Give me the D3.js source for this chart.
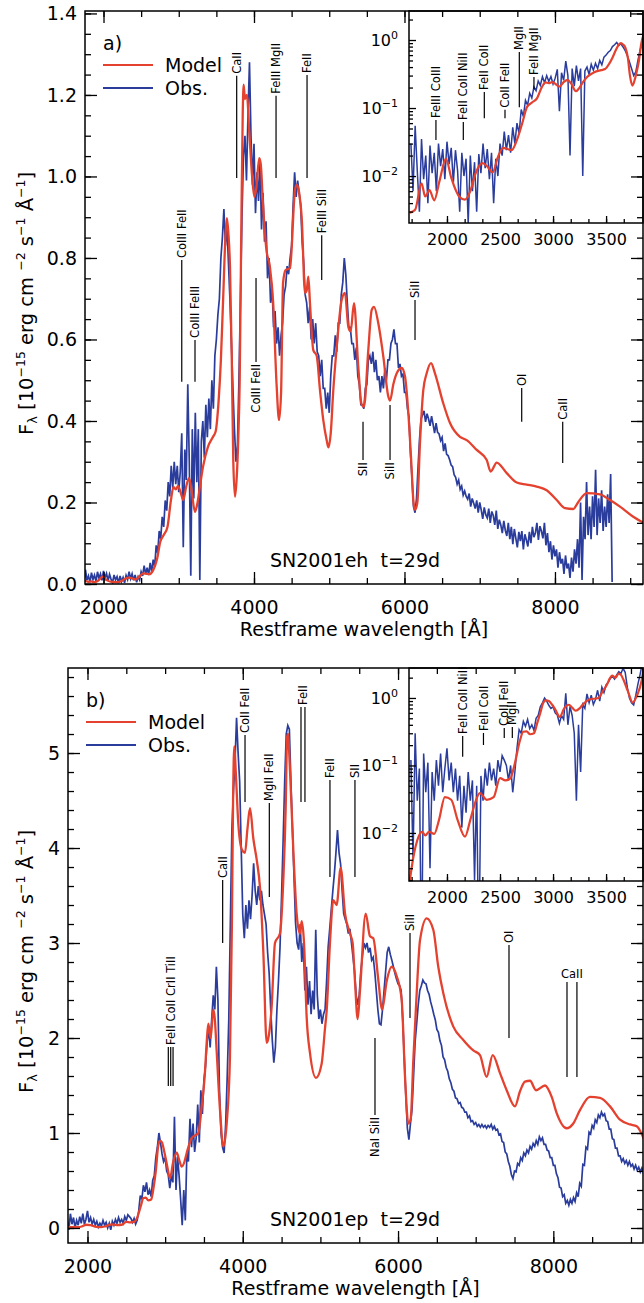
<!DOCTYPE html>
<html lang="en">
<head>
<meta charset="UTF-8">
<title>SN2001eh / SN2001ep spectra</title>
<script src="https://d3js.org/d3.v7.min.js"></script>
<style>
  body { margin: 0; padding: 0; background: #fff; }
  text { font-family: "DejaVu Sans", sans-serif; white-space: pre; }
</style>
</head>
<body>
<script>
  // observed spectra: flux on a regular wavelength grid (Angstrom)
  const obsStart = 1660, obsStep = 20

  const obsA = [
    0.030, 0.006, 0.055, 0.012, 0.003, 0.035, 0.009, 0.020, 0.004, 0.028, // 1660
    0.011, 0.022, 0.006, 0.030, 0.014, 0.025, 0.009, 0.032, 0.015, 0.026, // 1860
    0.008, 0.024, 0.012, 0.003, 0.022, 0.010, 0.018, 0.002, 0.020, 0.006, // 2060
    0.016, 0.003, 0.021, 0.011, 0.030, 0.013, 0.025, 0.009, 0.022, 0.004, // 2260
    0.018, 0.010, 0.030, 0.020, 0.045, 0.024, 0.040, 0.022, 0.052, 0.030, // 2460
    0.060, 0.042, 0.095, 0.075, 0.130, 0.110, 0.165, 0.140, 0.205, 0.180, // 2660
    0.250, 0.215, 0.290, 0.235, 0.300, 0.245, 0.290, 0.225, 0.275, 0.370, // 2860
    0.090, 0.330, 0.255, 0.490, 0.300, 0.020, 0.380, 0.210, 0.420, 0.250, // 3060
    0.380, 0.010, 0.350, 0.400, 0.310, 0.440, 0.360, 0.455, 0.380, 0.500, // 3260
    0.430, 0.560, 0.600, 0.660, 0.700, 0.800, 0.850, 0.920, 0.830, 0.880, // 3460
    0.790, 0.700, 0.590, 0.480, 0.380, 0.300, 0.340, 0.500, 0.700, 0.900, // 3660
    1.050, 1.100, 0.990, 1.150, 1.280, 1.100, 0.980, 1.080, 0.910, 1.010, // 3860
    0.940, 1.040, 0.870, 0.960, 0.840, 0.890, 0.750, 0.800, 0.690, 0.730, // 4060
    0.630, 0.670, 0.590, 0.630, 0.560, 0.610, 0.640, 0.710, 0.730, 0.780, // 4260
    0.760, 0.800, 0.830, 0.930, 1.010, 0.950, 0.990, 0.960, 0.930, 0.840, // 4460
    0.790, 0.710, 0.690, 0.640, 0.680, 0.600, 0.650, 0.590, 0.640, 0.570, // 4660
    0.560, 0.510, 0.550, 0.480, 0.480, 0.430, 0.470, 0.420, 0.510, 0.560, // 4860
    0.560, 0.610, 0.570, 0.640, 0.640, 0.710, 0.740, 0.800, 0.760, 0.690, // 5060
    0.630, 0.630, 0.590, 0.590, 0.550, 0.580, 0.510, 0.490, 0.440, 0.440, // 5260
    0.430, 0.480, 0.490, 0.550, 0.560, 0.540, 0.570, 0.520, 0.550, 0.500, // 5460
    0.510, 0.470, 0.510, 0.480, 0.530, 0.500, 0.550, 0.550, 0.590, 0.600, // 5660
    0.625, 0.590, 0.590, 0.530, 0.540, 0.510, 0.515, 0.470, 0.470, 0.430, // 5860
    0.410, 0.320, 0.260, 0.190, 0.175, 0.210, 0.285, 0.355, 0.405, 0.415, // 6060
    0.425, 0.398, 0.418, 0.405, 0.388, 0.412, 0.392, 0.370, 0.395, 0.372, // 6260
    0.368, 0.352, 0.360, 0.326, 0.345, 0.318, 0.315, 0.305, 0.292, 0.288, // 6460
    0.268, 0.262, 0.245, 0.255, 0.232, 0.240, 0.218, 0.228, 0.215, 0.208, // 6660
    0.222, 0.190, 0.210, 0.198, 0.185, 0.205, 0.175, 0.200, 0.182, 0.160, // 6860
    0.188, 0.170, 0.162, 0.185, 0.150, 0.178, 0.168, 0.145, 0.180, 0.135, // 7060
    0.158, 0.145, 0.125, 0.155, 0.132, 0.118, 0.150, 0.110, 0.140, 0.098, // 7260
    0.135, 0.112, 0.090, 0.128, 0.105, 0.130, 0.085, 0.122, 0.108, 0.092, // 7460
    0.128, 0.100, 0.140, 0.115, 0.125, 0.150, 0.108, 0.142, 0.130, 0.112, // 7660
    0.150, 0.095, 0.125, 0.078, 0.105, 0.060, 0.095, 0.068, 0.085, 0.040, // 7860
    0.078, 0.050, 0.062, 0.025, 0.070, 0.038, 0.050, 0.015, 0.065, 0.030, // 8060
    0.085, 0.050, 0.110, 0.040, 0.200, 0.010, 0.165, 0.110, 0.250, 0.120, // 8260
    0.190, 0.110, 0.215, 0.140, 0.280, 0.120, 0.210, 0.150, 0.230, 0.130, // 8460
    0.190, 0.140, 0.220, 0.150, 0.270, 0.005                              // 8660
  ]

  const obsB = [
    0.120, 0.004, 0.300, 0.030, 0.090, -0.020, 0.150, 0.040, 0.110, 0.003, // 1660
    0.080, 0.030, 0.120, 0.050, 0.150, 0.040, 0.090, 0.180, 0.060, 0.110,  // 1860
    0.040, 0.090, 0.030, 0.070, 0.012, 0.050, 0.020, 0.080, 0.030, 0.060,  // 2060
    0.002, 0.050, -0.020, 0.070, 0.030, 0.090, 0.050, 0.110, 0.060, 0.090, // 2260
    0.050, 0.120, 0.080, 0.140, 0.120, 0.100, 0.060, 0.100, 0.040, 0.080,  // 2460
    0.180, 0.340, 0.300, 0.450, 0.380, 0.480, 0.350, 0.400, 0.330, 0.500,  // 2660
    0.550, 0.740, 0.850, 1.000, 0.900, 0.780, 0.700, 0.740, 0.600, 0.560,  // 2860
    0.420, 0.550, 0.480, 1.170, 0.400, 0.750, 0.550, 0.300, 0.030, 0.400,  // 3060
    0.080, 0.800, 0.700, 1.150, 0.850, 1.100, 0.800, 0.950, 1.300, 0.900,  // 3260
    1.450, 1.200, 1.560, 1.700, 1.950, 2.100, 1.900, 2.200, 2.450, 2.300,  // 3460
    2.750, 2.400, 1.450, 1.000, 0.850, 0.790, 1.100, 1.600, 2.200, 3.200,  // 3660
    4.200, 4.600, 4.900, 5.370, 5.000, 4.700, 4.000, 3.300, 3.050, 3.400,  // 3860
    3.150, 3.450, 3.250, 3.500, 3.840, 3.550, 3.400, 3.600, 3.450, 3.550,  // 4060
    3.400, 3.300, 3.200, 2.900, 2.680, 2.300, 1.980, 1.740, 1.900, 2.300,  // 4260
    2.600, 2.960, 3.500, 4.080, 4.700, 5.200, 5.290, 5.250, 4.700, 4.200,  // 4460
    3.700, 3.210, 3.000, 2.930, 3.200, 2.800, 3.000, 2.500, 2.750, 2.350,  // 4660
    2.600, 2.250, 2.500, 2.300, 3.140, 2.450, 2.200, 2.300, 2.150, 2.250,  // 4860
    2.300, 2.600, 2.960, 3.150, 3.350, 3.550, 3.730, 3.950, 4.190, 3.950,  // 5060
    3.830, 3.550, 3.310, 3.250, 3.200, 3.100, 3.150, 3.000, 2.850, 2.700,  // 5260
    2.450, 2.350, 2.450, 2.700, 2.850, 3.000, 2.950, 3.000, 2.900, 2.950,  // 5460
    2.820, 2.850, 2.700, 2.500, 2.300, 2.150, 2.140, 2.300, 2.500, 2.700,  // 5660
    2.900, 2.960, 2.880, 2.820, 2.750, 2.680, 2.620, 2.570, 2.550, 2.500,  // 5860
    2.200, 1.800, 1.400, 1.050, 0.930, 1.100, 1.250, 1.600, 1.960, 2.150,  // 6060
    2.350, 2.500, 2.550, 2.610, 2.580, 2.570, 2.500, 2.460, 2.380, 2.320,  // 6260
    2.250, 2.190, 2.090, 2.060, 1.970, 1.920, 1.800, 1.770, 1.690, 1.650,  // 6460
    1.570, 1.530, 1.460, 1.440, 1.370, 1.360, 1.310, 1.320, 1.270, 1.260,  // 6660
    1.220, 1.220, 1.160, 1.180, 1.120, 1.130, 1.090, 1.110, 1.070, 1.090,  // 6860
    1.060, 1.090, 1.060, 1.080, 1.050, 1.080, 1.060, 1.090, 1.040, 1.070,  // 7060
    1.030, 1.040, 0.980, 0.990, 0.910, 0.900, 0.800, 0.780, 0.700, 0.650,  // 7260
    0.560, 0.520, 0.600, 0.590, 0.680, 0.660, 0.740, 0.710, 0.790, 0.760,  // 7460
    0.820, 0.790, 0.860, 0.830, 0.890, 0.860, 0.920, 0.880, 0.960, 0.920,  // 7660
    0.950, 0.880, 0.880, 0.820, 0.810, 0.740, 0.740, 0.660, 0.660, 0.570,  // 7860
    0.530, 0.430, 0.420, 0.330, 0.350, 0.260, 0.290, 0.240, 0.300, 0.260,  // 8060
    0.320, 0.280, 0.370, 0.330, 0.470, 0.440, 0.670, 0.660, 0.850, 0.830,  // 8260
    1.010, 0.990, 1.080, 1.050, 1.140, 1.110, 1.190, 1.160, 1.220, 1.180,  // 8460
    1.200, 1.130, 1.120, 1.040, 1.040, 0.940, 0.930, 0.840, 0.840, 0.760,  // 8660
    0.760, 0.700, 0.730, 0.680, 0.710, 0.660, 0.700, 0.650, 0.670, 0.620,  // 8860
    0.660, 0.610, 0.640, 0.590, 0.630, 0.580, 0.620, 0.580                 // 9060
  ]

  // model spectra: [wavelength, flux] knots
  const modelA = [
    [1650, 0.0029], [1700, 0.0032], [1760, 0.0078], [1795, 0.005], [1835, 0.0062], [1880, 0.0044],
    [1930, 0.0085], [1990, 0.018], [2040, 0.0095], [2120, 0.0049], [2170, 0.0045], [2220, 0.006],
    [2270, 0.011], [2335, 0.0155], [2380, 0.0138], [2430, 0.0113], [2480, 0.019], [2530, 0.026],
    [2570, 0.025], [2610, 0.024], [2660, 0.034], [2710, 0.06], [2755, 0.104], [2800, 0.12],
    [2850, 0.14], [2895, 0.204], [2930, 0.238], [2960, 0.232], [2990, 0.24], [3020, 0.228],
    [3060, 0.206], [3100, 0.24], [3136, 0.26], [3170, 0.23], [3216, 0.177], [3250, 0.2],
    [3282, 0.24], [3323, 0.288], [3389, 0.337], [3455, 0.361], [3490, 0.374], [3530, 0.45],
    [3560, 0.55], [3590, 0.7], [3620, 0.85], [3640, 0.898], [3660, 0.86], [3681, 0.778],
    [3705, 0.55], [3725, 0.3], [3748, 0.214], [3770, 0.26], [3790, 0.35], [3810, 0.5],
    [3830, 0.85], [3850, 1.15], [3862, 1.225], [3880, 1.19], [3905, 1.2], [3940, 1.1],
    [3975, 1.0], [4005, 0.95], [4030, 0.97], [4070, 1.045], [4090, 1.03], [4120, 0.93],
    [4165, 0.82], [4210, 0.78], [4255, 0.69], [4300, 0.49], [4333, 0.402], [4360, 0.47],
    [4386, 0.738], [4420, 0.77], [4479, 0.775], [4545, 0.967], [4570, 0.98], [4600, 0.96],
    [4634, 0.9], [4678, 0.714], [4700, 0.72], [4722, 0.754], [4744, 0.689], [4788, 0.574],
    [4833, 0.56], [4877, 0.476], [4921, 0.402], [4966, 0.353], [4990, 0.335], [5020, 0.37],
    [5054, 0.476], [5099, 0.58], [5165, 0.697], [5209, 0.714], [5254, 0.631], [5285, 0.62],
    [5329, 0.689], [5386, 0.533], [5431, 0.44], [5462, 0.435], [5519, 0.574], [5564, 0.672],
    [5595, 0.68], [5652, 0.64], [5719, 0.558], [5785, 0.46], [5808, 0.45], [5852, 0.49],
    [5897, 0.517], [5963, 0.53], [6007, 0.509], [6051, 0.42], [6090, 0.3], [6120, 0.2],
    [6140, 0.182], [6171, 0.2], [6206, 0.346], [6250, 0.476], [6295, 0.517], [6353, 0.542],
    [6405, 0.517], [6516, 0.443], [6605, 0.395], [6738, 0.361], [6827, 0.353], [6960, 0.329],
    [7093, 0.304], [7146, 0.276], [7226, 0.298], [7359, 0.272], [7492, 0.249], [7624, 0.244],
    [7757, 0.239], [7890, 0.23], [8023, 0.206], [8134, 0.186], [8244, 0.184], [8306, 0.2],
    [8422, 0.223], [8598, 0.22], [8731, 0.206], [8864, 0.19], [9041, 0.165], [9180, 0.15]
  ]

  const modelB = [
    [1650, 0.002], [1690, 0.005], [1720, 0.0078], [1765, 0.0104], [1796, 0.0092], [1830, 0.0104],
    [1880, 0.0097], [1925, 0.0156], [1980, 0.034], [2040, 0.031], [2100, 0.0156], [2170, 0.0088],
    [2220, 0.0156], [2265, 0.028], [2310, 0.039], [2375, 0.031], [2440, 0.034], [2500, 0.065],
    [2550, 0.06], [2600, 0.065], [2635, 0.1], [2690, 0.24], [2719, 0.316], [2750, 0.32],
    [2783, 0.29], [2820, 0.3], [2850, 0.42], [2880, 0.6], [2910, 0.86], [2935, 0.92],
    [2960, 0.9], [2990, 0.8], [3020, 0.68], [3063, 0.526], [3105, 0.7], [3149, 0.793],
    [3180, 0.72], [3213, 0.646], [3250, 0.7], [3278, 0.79], [3342, 0.947], [3427, 1.0],
    [3471, 1.28], [3510, 1.6], [3535, 1.95], [3556, 2.15], [3587, 2.0], [3620, 2.3],
    [3640, 2.2], [3664, 1.86], [3707, 1.24], [3750, 0.856], [3793, 1.1], [3835, 1.8],
    [3860, 3.2], [3875, 4.5], [3891, 5.07], [3910, 4.8], [3943, 4.25], [3990, 3.98],
    [4029, 3.95], [4060, 4.2], [4093, 4.42], [4136, 4.1], [4179, 3.88], [4222, 3.58],
    [4265, 2.9], [4308, 1.95], [4330, 2.0], [4372, 2.33], [4415, 3.0], [4479, 3.1],
    [4522, 3.66], [4553, 4.43], [4570, 5.15], [4582, 5.2], [4608, 4.82], [4651, 3.98],
    [4694, 3.31], [4737, 3.1], [4759, 3.23], [4789, 3.0], [4823, 2.22], [4866, 1.84],
    [4943, 1.58], [5016, 1.73], [5059, 2.1], [5081, 2.29], [5123, 3.0], [5166, 3.45],
    [5209, 3.4], [5261, 3.79], [5317, 3.31], [5381, 3.1], [5415, 3.0], [5445, 2.6],
    [5480, 2.2], [5510, 2.5], [5583, 3.31], [5639, 3.07], [5681, 3.05], [5746, 2.61],
    [5795, 2.3], [5854, 2.6], [5918, 2.75], [5983, 2.65], [6047, 2.4], [6090, 1.59],
    [6132, 1.1], [6163, 1.15], [6197, 1.77], [6240, 2.47], [6283, 3.03], [6369, 3.26],
    [6454, 3.14], [6518, 2.75], [6583, 2.47], [6712, 2.12], [6840, 1.98], [6969, 1.87],
    [7055, 1.82], [7141, 1.59], [7219, 1.82], [7313, 1.63], [7399, 1.45], [7506, 1.28],
    [7571, 1.44], [7635, 1.54], [7700, 1.55], [7777, 1.45], [7893, 1.5], [7979, 1.38],
    [8043, 1.21], [8172, 1.05], [8257, 1.1], [8343, 1.24], [8472, 1.38], [8601, 1.37],
    [8730, 1.28], [8859, 1.14], [8988, 1.09], [9074, 1.07], [9170, 0.93]
  ]

  // line identifications: name, wavelengths, flux range of the marker
  const idsA = [
    { t: 'CoIII FeII', w: [3040], f: [0.795, 0.496] },
    { t: 'CoIII FeIII', w: [3216], f: [0.599, 0.496] },
    { t: 'CaII', w: [3770], f: [1.247, 0.996] },
    { t: 'FeIII MgII', w: [4293], f: [1.198, 0.996] },
    { t: 'FeII', w: [4705], f: [1.249, 0.996] },
    { t: 'FeIII SiII', w: [4900], f: [0.856, 0.746] },
    { t: 'CoIII FeII', w: [4027], f: [0.751, 0.545], side: 'down' },
    { t: 'SII', w: [5449], f: [0.398, 0.304], side: 'down' },
    { t: 'SiII', w: [5808], f: [0.439, 0.304], side: 'down' },
    { t: 'SiII', w: [6140], f: [0.697, 0.599] },
    { t: 'OI', w: [7558], f: [0.481, 0.398] },
    { t: 'CaII', w: [8103], f: [0.398, 0.297] }
  ]
  const idsInsetA = [
    { t: 'FeIII CoIII', w: [1896], f: [0.0665, 0.0338] },
    { t: 'FeII CoII NiII', w: [2154], f: [0.0623, 0.0338] },
    { t: 'FeII CoII', w: [2352], f: [0.172, 0.071] },
    { t: 'CoII FeII', w: [2547], f: [0.094, 0.071] },
    { t: 'MgII', w: [2682], f: [0.666, 0.103] },
    { t: 'FeII MgII', w: [2820], f: [0.286, 0.19] }
  ]
  const idsB = [
    { t: 'FeII CoII CrII TiII', w: [3041, 3072, 3102], f: [1.905, 1.495] },
    { t: 'CaII', w: [3741], f: [3.663, 3.0] },
    { t: 'CoII FeII', w: [4029], f: [5.19, 4.484] },
    { t: 'MgII FeII', w: [4342], f: [4.474, 3.484] },
    { t: 'FeII', w: [4750, 4801], f: [5.484, 4.484] },
    { t: 'FeII', w: [5123], f: [4.716, 3.695] },
    { t: 'SII', w: [5445], f: [4.716, 3.695] },
    { t: 'SiII', w: [6154], f: [3.105, 2.21] },
    { t: 'NaI SiII', w: [5703], f: [2.0, 1.19], side: 'down' },
    { t: 'OI', w: [7429], f: [2.979, 2.0] },
    { t: 'CaII', w: [8176, 8304], f: [2.589, 1.589], side: 'flat' }
  ]
  const idsInsetB = [
    { t: 'FeII CoII NiII', w: [2148], f: [0.273, 0.134] },
    { t: 'FeII CoII', w: [2344], f: [0.303, 0.201] },
    { t: 'CoII FeII', w: [2540], f: [0.359, 0.255] },
    { t: 'MgII', w: [2616], f: [0.372, 0.255] }
  ]

  const xMajor = [2000, 4000, 6000, 8000]
  const insetXMajor = [2000, 2500, 3000, 3500]
  const insetYMajor = [0.01, 0.1, 1]

  const red = '#e4412f'
  const blue = '#2a3c9c'
  const idFont = '"Liberation Sans", Arial, sans-serif'

  const svg = d3.select('body').append('svg')
    .attr('width', 644)
    .attr('height', 1303)

  const obsPoints = vals => vals.map((v, i) => [obsStart + i * obsStep, v])

  function styleAxis(g, size) {
    g.selectAll('.domain').remove()
    g.selectAll('.tick line').attr('stroke', '#000').attr('stroke-width', 1.3)
    g.attr('font-family', '"DejaVu Sans", sans-serif').attr('font-size', size)
    g.selectAll('.tick text').attr('fill', '#000')
  }

  function addAxis(gen, tx, ty, size) {
    const g = svg.append('g').attr('transform', `translate(${tx},${ty})`).call(gen)
    styleAxis(g, size)
    return g
  }

  function drawIds(g, list, x, y) {
    list.forEach(l => {
      const xs = l.w.map(x)
      const y1 = y(l.f[0]), y2 = y(l.f[1])
      xs.forEach(xx => g.append('line')
        .attr('x1', xx).attr('x2', xx).attr('y1', y1).attr('y2', y2)
        .attr('stroke', '#000').attr('stroke-width', 1.2))
      const xc = d3.mean(xs)
      const t = g.append('text')
        .attr('font-family', idFont)
        .attr('font-size', 11.5)
        .attr('fill', '#000')
        .text(l.t)
      if (l.side === 'flat') {
        t.attr('x', xc).attr('y', y1 - 4).attr('text-anchor', 'middle')
      } else if (l.side === 'down') {
        t.attr('transform', `translate(${xc},${y2 + 2}) rotate(-90)`)
          .attr('text-anchor', 'end').attr('dy', '0.36em')
      } else {
        t.attr('transform', `translate(${xc},${y1 - 2}) rotate(-90)`)
          .attr('dy', '0.36em')
      }
    })
  }

  function yTitle(cx, cy) {
    const t = svg.append('text')
      .attr('transform', `translate(${cx},${cy}) rotate(-90)`)
      .attr('text-anchor', 'middle')
      .attr('font-size', 19.5)
    t.append('tspan').text('F')
    t.append('tspan').attr('font-size', 13).attr('dy', 4).text('λ')
    t.append('tspan').attr('dy', -4).text(' [10')
    t.append('tspan').attr('font-size', 12.5).attr('dy', -8).text('−15')
    t.append('tspan').attr('dy', 8).text(' erg cm ')
    t.append('tspan').attr('font-size', 12.5).attr('dy', -8).text('−2')
    t.append('tspan').attr('dy', 8).text(' s')
    t.append('tspan').attr('font-size', 12.5).attr('dy', -8).text('−1')
    t.append('tspan').attr('dy', 8).text(' Å')
    t.append('tspan').attr('font-size', 12.5).attr('dy', -8).text('−1')
    t.append('tspan').attr('dy', 8).text(']')
  }

  function inset(p, ins, obs, model, ids) {
    const x = d3.scaleLinear().domain(ins.xDomain).range([ins.left, ins.right])
    const y = d3.scaleLog().domain(ins.yDomain).range([ins.bottom, ins.top])
    const clipId = 'clip-inset-' + p.id
    svg.append('clipPath').attr('id', clipId).append('rect')
      .attr('x', ins.left).attr('y', ins.top)
      .attr('width', ins.right - ins.left).attr('height', ins.bottom - ins.top)

    svg.append('rect')
      .attr('x', ins.left).attr('y', ins.top)
      .attr('width', ins.right - ins.left).attr('height', ins.bottom - ins.top)
      .attr('fill', '#fff')

    const g = svg.append('g')
    const lineObs = d3.line().x(d => x(d[0])).y(d => y(Math.max(d[1], 1e-4)))
    const lineMod = d3.line().x(d => x(d[0])).y(d => y(d[1])).curve(d3.curveMonotoneX)
    g.append('path').datum(obsPoints(obs).filter(d => d[0] < 3950))
      .attr('d', lineObs).attr('fill', 'none')
      .attr('stroke', blue).attr('stroke-width', 1.5)
      .attr('clip-path', `url(#${clipId})`)
    g.append('path').datum(model.filter(d => d[0] < 4000))
      .attr('d', lineMod).attr('fill', 'none')
      .attr('stroke', red).attr('stroke-width', 2.2)
      .attr('clip-path', `url(#${clipId})`)

    drawIds(g, ids, x, y)

    // log minor ticks
    const yMinor = []
    ;[0.001, 0.01, 0.1, 1].forEach(dec => {
      for (let k = 2; k < 10; k++) {
        const v = k * dec
        if (v > ins.yDomain[0] && v < ins.yDomain[1]) yMinor.push(v)
      }
    })
    const xMinor = d3.range(0, 14).map(i => 1500 + i * 500 / 3)
      .filter(v => v > ins.xDomain[0] && v < ins.xDomain[1])

    addAxis(d3.axisBottom(x).tickValues(insetXMajor).tickSize(-7).tickPadding(10.5)
      .tickFormat(d3.format('d')), 0, ins.bottom, 16)
    addAxis(d3.axisBottom(x).tickValues(xMinor).tickSize(-4).tickFormat(''), 0, ins.bottom, 16)
    const ly = addAxis(d3.axisLeft(y).tickValues(insetYMajor).tickSize(-7).tickPadding(11),
      ins.left, 0, 16)
    ly.selectAll('.tick text').each(function (d) {
      const e = Math.round(Math.log10(d))
      const t = d3.select(this).text('10')
      t.append('tspan').attr('dy', -7).attr('font-size', 11)
        .text(e === 0 ? '0' : '−' + Math.abs(e))
    })
    addAxis(d3.axisLeft(y).tickValues(yMinor).tickSize(-4).tickFormat(''), ins.left, 0, 16)

    svg.append('rect')
      .attr('x', ins.left).attr('y', ins.top)
      .attr('width', ins.right - ins.left).attr('height', ins.bottom - ins.top)
      .attr('fill', 'none').attr('stroke', '#000').attr('stroke-width', 1.5)
  }

  function panel(p) {
    const x = d3.scaleLinear().domain(p.xDomain).range([p.left, p.right])
    const y = d3.scaleLinear().domain(p.yDomain).range([p.bottom, p.top])
    const clipId = 'clip-' + p.id
    svg.append('clipPath').attr('id', clipId).append('rect')
      .attr('x', p.left).attr('y', p.top)
      .attr('width', p.right - p.left).attr('height', p.bottom - p.top)

    const g = svg.append('g')
    const lineObs = d3.line().x(d => x(d[0])).y(d => y(d[1]))
    const lineMod = d3.line().x(d => x(d[0])).y(d => y(d[1])).curve(d3.curveMonotoneX)

    g.append('path').datum(obsPoints(p.obs))
      .attr('d', lineObs).attr('fill', 'none')
      .attr('stroke', blue).attr('stroke-width', 1.7)
      .attr('clip-path', `url(#${clipId})`)
    g.append('path').datum(p.model)
      .attr('d', lineMod).attr('fill', 'none')
      .attr('stroke', red).attr('stroke-width', 2.3)
      .attr('clip-path', `url(#${clipId})`)

    drawIds(g, p.ids, x, y)

    // legend
    const lx = p.left + 18
    g.append('text').attr('x', lx).attr('y', p.top + 39).attr('font-size', 19).text(p.letter)
    g.append('line').attr('x1', lx).attr('x2', lx + 50)
      .attr('y1', p.top + 54).attr('y2', p.top + 54)
      .attr('stroke', red).attr('stroke-width', 2.2)
    g.append('text').attr('x', lx + 62).attr('y', p.top + 61).attr('font-size', 19).text('Model')
    g.append('line').attr('x1', lx).attr('x2', lx + 50)
      .attr('y1', p.top + 77).attr('y2', p.top + 77)
      .attr('stroke', blue).attr('stroke-width', 2.2)
    g.append('text').attr('x', lx + 62).attr('y', p.top + 84).attr('font-size', 19).text('Obs.')

    g.append('text').attr('x', 270).attr('y', p.bottom - 17)
      .attr('font-size', 19).text(p.name)

    inset(p, p.inset, p.obs, p.model, p.insetIds)

    // axes of the main panel, drawn last so the top and right ticks show over the inset
    const xMinor = d3.range(2000, p.xDomain[1], 500)
    const yMajor = d3.range(0, p.yDomain[1], p.yStep)
    const yMinor = d3.range(0, p.yDomain[1], p.yMinorStep)

    addAxis(d3.axisBottom(x).tickValues(xMajor).tickSize(-12).tickPadding(17)
      .tickFormat(d3.format('d')), 0, p.bottom, 19)
    addAxis(d3.axisBottom(x).tickValues(xMinor).tickSize(-6).tickFormat(''), 0, p.bottom, 19)
    addAxis(d3.axisTop(x).tickValues(xMajor).tickSize(-12).tickFormat(''), 0, p.top, 19)
    addAxis(d3.axisTop(x).tickValues(xMinor).tickSize(-6).tickFormat(''), 0, p.top, 19)
    addAxis(d3.axisLeft(y).tickValues(yMajor).tickSize(-12).tickPadding(8)
      .tickFormat(p.yFormat), p.left, 0, 19)
    addAxis(d3.axisLeft(y).tickValues(yMinor).tickSize(-6).tickFormat(''), p.left, 0, 19)
    addAxis(d3.axisRight(y).tickValues(yMajor).tickSize(-12).tickFormat(''), p.right, 0, 19)
    addAxis(d3.axisRight(y).tickValues(yMinor).tickSize(-6).tickFormat(''), p.right, 0, 19)

    svg.append('rect')
      .attr('x', p.left).attr('y', p.top)
      .attr('width', p.right - p.left).attr('height', p.bottom - p.top)
      .attr('fill', 'none').attr('stroke', '#000').attr('stroke-width', 1.5)

    svg.append('text')
      .attr('x', (p.left + p.right) / 2).attr('y', p.bottom + 52)
      .attr('text-anchor', 'middle').attr('font-size', 19)
      .text('Restframe wavelength [Å]')

    yTitle(33, (p.top + p.bottom) / 2 + 6)
  }

  panel({
    id: 'a', letter: 'a)', name: 'SN2001eh  t=29d',
    left: 85, right: 643, top: 11, bottom: 584,
    xDomain: [1754, 9170], yDomain: [0, 1.406],
    yStep: 0.2, yMinorStep: 0.05, yFormat: d3.format('.1f'),
    obs: obsA, model: modelA, ids: idsA, insetIds: idsInsetA,
    inset: { left: 409, right: 643, top: 11, bottom: 223, xDomain: [1642, 3848], yDomain: [0.00204, 2.67] }
  })

  panel({
    id: 'b', letter: 'b)', name: 'SN2001ep  t=29d',
    left: 68, right: 643, top: 668, bottom: 1243,
    xDomain: [1749, 9155], yDomain: [-0.158, 5.895],
    yStep: 1, yMinorStep: 0.2, yFormat: d3.format('d'),
    obs: obsB, model: modelB, ids: idsB, insetIds: idsInsetB,
    inset: { left: 409, right: 643, top: 668, bottom: 881, xDomain: [1642, 3848], yDomain: [0.00194, 2.78] }
  })
</script>
</body>
</html>
